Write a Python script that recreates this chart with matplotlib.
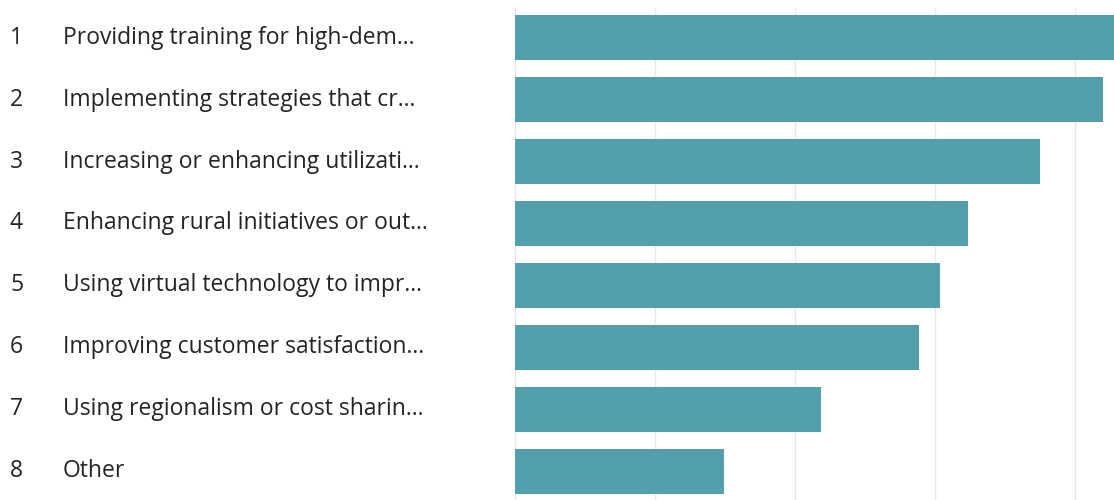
import matplotlib
matplotlib.use("Agg")
import matplotlib.pyplot as plt
import matplotlib.transforms as mtransforms

# ranks, labels and values (grid step = 10)
ranks = ["1", "2", "3", "4", "5", "6", "7", "8"]
labels = [
    "Providing training for high-dem...",
    "Implementing strategies that cr...",
    "Increasing or enhancing utilizati...",
    "Enhancing rural initiatives or out...",
    "Using virtual technology to impr...",
    "Improving customer satisfaction...",
    "Using regionalism or cost sharin...",
    "Other",
]
values = [43.0, 42.0, 37.5, 32.4, 30.4, 28.9, 21.9, 14.9]

bar_color = "#52a0ac"
text_color = "#252423"

fig = plt.figure(figsize=(11.14, 5.0), dpi=100)
ax = fig.add_axes([515 / 1114, 0.0, 1 - 515 / 1114, 1 - 8 / 500])

ypos = list(range(len(values)))
ax.barh(ypos, values, height=0.726, color=bar_color, zorder=3)

ax.set_xlim(0, 42.8)
ax.set_ylim(7.46, -0.476)
ax.set_xticks([0, 10, 20, 30, 40])
ax.grid(axis="x", color="#e8e8e8", linewidth=1, zorder=0)
ax.set_yticks([])
ax.tick_params(axis="x", length=0, labelbottom=False)
for s in ax.spines.values():
    s.set_visible(False)

trans = mtransforms.blended_transform_factory(fig.transFigure, ax.transData)
for y, r, lab in zip(ypos, ranks, labels):
    ax.text(10 / 1114, y, r, transform=trans, ha="left", va="center",
            fontsize=16.5, color=text_color, family="Open Sans", clip_on=False)
    ax.text(63 / 1114, y, lab, transform=trans, ha="left", va="center",
            fontsize=16.5, color=text_color, family="Open Sans", clip_on=False)

fig.savefig("out.png", dpi=100)
